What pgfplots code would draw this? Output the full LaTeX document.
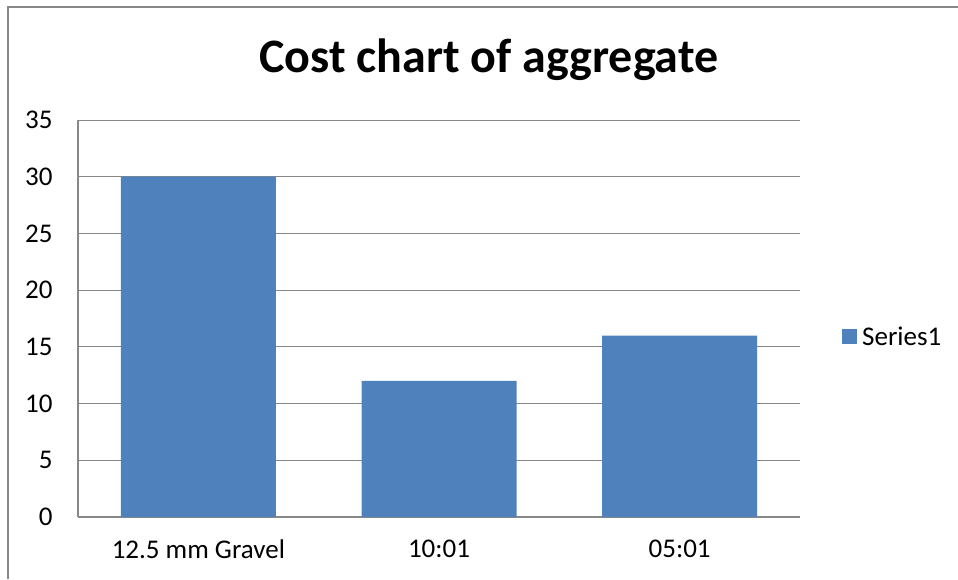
\documentclass[border=0pt]{standalone}
\usepackage{pgfplots}
\pgfplotsset{compat=1.18}
\usepackage{fontspec}
\setmainfont{Carlito}
\definecolor{barblue}{HTML}{4F81BD}
\definecolor{axgray}{HTML}{888888}
\begin{document}
\begin{tikzpicture}[x=1pt,y=1pt]
\path[use as bounding box] (0,0) rectangle (958,579);
\draw[axgray, line width=1.2pt] (8,0) -- (8,572) -- (958,572);
\node[anchor=base, font=\fontsize{48}{58}\selectfont\bfseries] at (489,506) {Cost chart of aggregate};
\begin{axis}[
  at={(78pt,62pt)}, anchor=south west,
  scale only axis, width=722pt, height=397pt,
  xmin=-0.5, xmax=2.5, ymin=0, ymax=35,
  ytick={0,5,...,35}, xtick={0,1,2},
  xticklabels={12.5 mm Gravel,10:01,05:01},
  ymajorgrids, grid style={axgray, line width=1pt},
  axis x line*=bottom, axis y line*=left,
  axis line style={axgray, line width=1.2pt, -},
  major tick length=0pt,
  tick label style={font=\fontsize{27}{32}\selectfont, text=black},
  /pgf/number format/assume math mode=true,
  yticklabel style={xshift=-22pt},
  xticklabel style={yshift=-19pt},
  ybar, bar width=155pt,
  legend style={at={(1,0.5)}, anchor=west, xshift=39pt, yshift=-18pt, draw=none, fill=none, font=\fontsize{27}{32}\selectfont},
]
\addplot[fill=barblue, draw=none, legend image code/.code={\fill[barblue] (0pt,-7.5pt) rectangle (15pt,7.5pt);\path (18pt,0pt);}]
  coordinates {(0,30) (1,12) (2,16)};
\addlegendentry{Series1}
\end{axis}
\end{tikzpicture}
\end{document}
